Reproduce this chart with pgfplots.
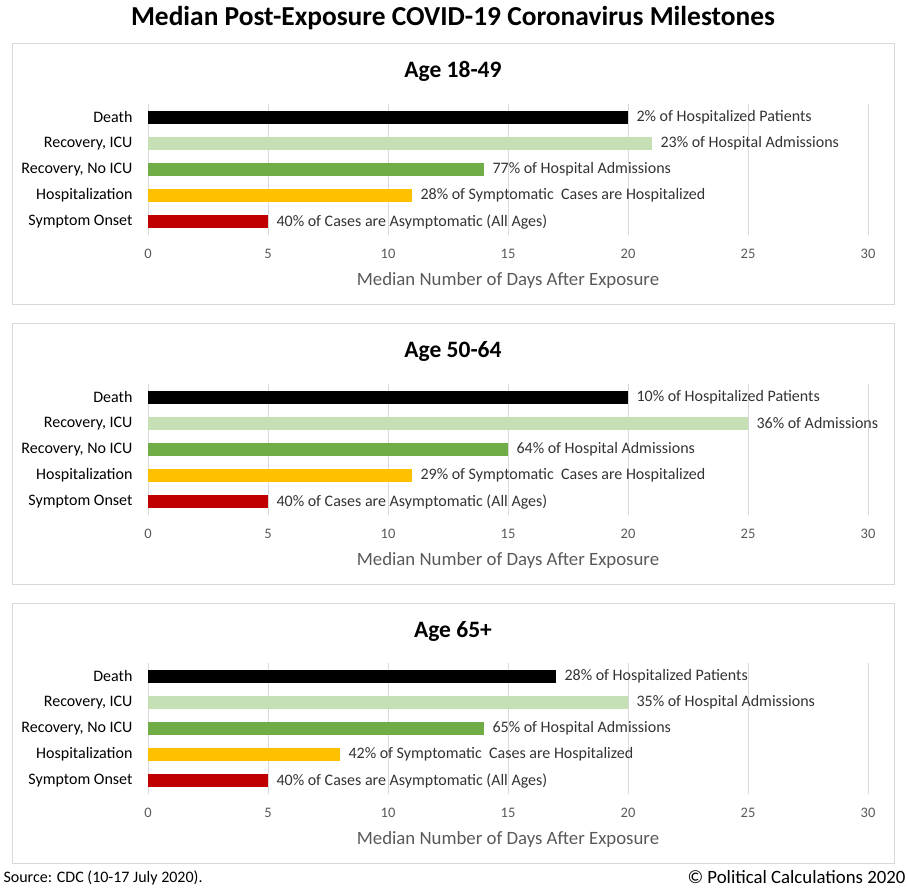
\documentclass[border=0pt]{standalone}
\usepackage{pgfplots}
\pgfplotsset{compat=1.18}
\usepackage{fontspec}
\setmainfont{Carlito}
\definecolor{cDeath}{HTML}{000000}
\definecolor{cICU}{HTML}{C5E0B4}
\definecolor{cNoICU}{HTML}{70AD47}
\definecolor{cHosp}{HTML}{FFC000}
\definecolor{cOnset}{HTML}{C00000}
\definecolor{gridc}{HTML}{D9D9D9}
\definecolor{txtgray}{HTML}{595959}
\pgfplotsset{
  panel/.style={
    scale only axis, width=720pt, height=131pt,
    anchor=south west,
    xmin=0, xmax=30, ymin=-0.5, ymax=4.5,
    xtick={0,5,...,30}, ytick={0,1,2,3,4},
    yticklabels={Symptom Onset,Hospitalization,{Recovery, No ICU},{Recovery, ICU},Death},
    xmajorgrids, major grid style={gridc, line width=0.8pt},
    axis line style={draw=none},
    major tick length=0pt,
    /pgf/number format/assume math mode=true,
    xticklabel style={font=\fontsize{14.5}{16}\selectfont, text=txtgray, yshift=-11pt},
    yticklabel style={font=\fontsize{16}{18}\selectfont, text=black, xshift=-12pt},
    xlabel={Median Number of Days After Exposure},
    xlabel style={font=\fontsize{18.8}{22}\selectfont, text=txtgray, yshift=-7pt},
    clip=false,
    every axis plot/.append style={xbar, bar shift=0pt, bar width=13pt, draw=none,
      point meta=explicit symbolic,
      nodes near coords,
      nodes near coords style={font=\fontsize{16}{18}\selectfont, text=black!80, anchor=west, xshift=5pt}},
  }
}
\begin{document}
\begin{tikzpicture}
\useasboundingbox (0pt,0pt) rectangle (908pt,890pt);
% main title
\node[font=\fontsize{27.4}{32}\selectfont\bfseries] at (453pt,872pt) {Median Post-Exposure COVID-19 Coronavirus Milestones};
% panel borders
\draw[gridc, line width=1pt] (12pt,846pt) rectangle (894pt,585pt);
\draw[gridc, line width=1pt] (12pt,566pt) rectangle (894pt,305pt);
\draw[gridc, line width=1pt] (12pt,286pt) rectangle (894pt,26pt);
% panel titles
\node[font=\fontsize{23.5}{28}\selectfont\bfseries] at (453pt,819pt) {Age 18-49};
\node[font=\fontsize{23.5}{28}\selectfont\bfseries] at (453pt,539pt) {Age 50-64};
\node[font=\fontsize{23.5}{28}\selectfont\bfseries] at (453pt,259pt) {Age 65+};

\begin{axis}[panel, at={(148pt,655pt)}]
\addplot[fill=cDeath] coordinates {(20,4) [2\% of Hospitalized Patients]};
\addplot[fill=cICU] coordinates {(21,3) [23\% of Hospital Admissions]};
\addplot[fill=cNoICU] coordinates {(14,2) [77\% of Hospital Admissions]};
\addplot[fill=cHosp] coordinates {(11,1) [28\% of Symptomatic\ \ Cases are Hospitalized]};
\addplot[fill=cOnset] coordinates {(5,0) [40\% of Cases are Asymptomatic (All Ages)]};
\end{axis}

\begin{axis}[panel, at={(148pt,375pt)}]
\addplot[fill=cDeath] coordinates {(20,4) [10\% of Hospitalized Patients]};
\addplot[fill=cICU] coordinates {(25,3) [36\% of Admissions]};
\addplot[fill=cNoICU] coordinates {(15,2) [64\% of Hospital Admissions]};
\addplot[fill=cHosp] coordinates {(11,1) [29\% of Symptomatic\ \ Cases are Hospitalized]};
\addplot[fill=cOnset] coordinates {(5,0) [40\% of Cases are Asymptomatic (All Ages)]};
\end{axis}

\begin{axis}[panel, at={(148pt,96pt)}]
\addplot[fill=cDeath] coordinates {(17,4) [28\% of Hospitalized Patients]};
\addplot[fill=cICU] coordinates {(20,3) [35\% of Hospital Admissions]};
\addplot[fill=cNoICU] coordinates {(14,2) [65\% of Hospital Admissions]};
\addplot[fill=cHosp] coordinates {(8,1) [42\% of Symptomatic\ \ Cases are Hospitalized]};
\addplot[fill=cOnset] coordinates {(5,0) [40\% of Cases are Asymptomatic (All Ages)]};
\end{axis}

\node[anchor=west, font=\fontsize{16}{18}\selectfont] at (0pt,12pt) {Source: CDC (10-17 July 2020).};
\node[anchor=east, font=\fontsize{18.8}{22}\selectfont] at (909pt,13pt) {© Political Calculations 2020};
\end{tikzpicture}
\end{document}
